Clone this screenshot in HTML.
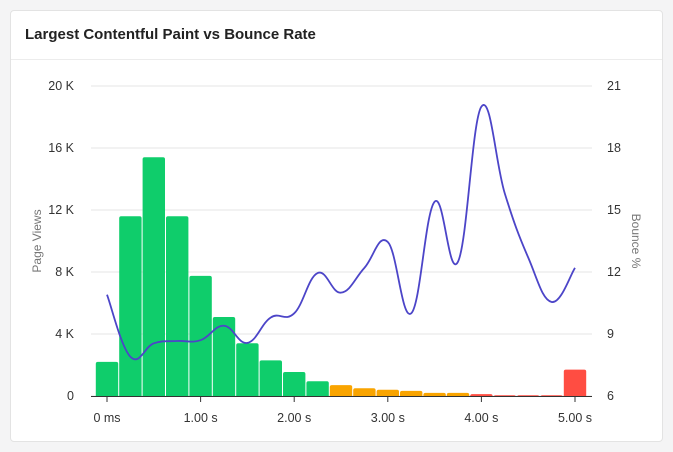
<!DOCTYPE html>
<html><head><meta charset="utf-8"><style>
body{margin:0;background:#f4f4f5;font-family:"Liberation Sans",sans-serif;}
.card{position:absolute;left:10px;top:10px;width:651px;height:430px;background:#fff;border:1px solid #e3e3e3;border-radius:4px;}
.hdr{height:48px;border-bottom:1px solid #ececec;font-size:15px;font-weight:bold;color:#222;line-height:48px;padding-left:14px;}
svg{position:absolute;left:0;top:0}
text{font-family:"Liberation Sans",sans-serif;font-size:12.5px;fill:#333}
</style></head><body>
<div class="card"><div class="hdr">Largest Contentful Paint vs Bounce Rate</div></div>
<svg id="c" width="673" height="452"></svg>
<script>
const categories=[0,0.25,0.5,0.75,1,1.25,1.5,1.75,2,2.25,2.5,2.75,3,3.25,3.5,3.75,4,4.25,4.5,4.75,5];
const pageViews=[2.2,11.6,15.4,11.6,7.75,5.1,3.4,2.3,1.55,0.95,0.7,0.5,0.4,0.33,0.2,0.2,0.12,0.05,0.05,0.05,1.7];
const bounce=[10.9,7.9,8.55,8.66,8.7,9.4,8.57,9.8,10.0,11.95,11.0,12.2,13.45,10.0,15.4,12.5,20.0,15.8,12.7,10.55,12.2];
const leftTicks=[0,4,8,12,16,20];
const leftLabels=["0","4 K","8 K","12 K","16 K","20 K"];
const rightTicks=[6,9,12,15,18,21];
const xTicks=[0,1,2,3,4,5];
const xLabels=["0 ms","1.00 s","2.00 s","3.00 s","4.00 s","5.00 s"];
const svg=document.getElementById('c');const NS='http://www.w3.org/2000/svg';
const X=v=>107+v*93.6, YL=v=>396-v*15.5, YR=v=>396-(v-6)*310/15;
function mk(t,a,txt){const e=document.createElementNS(NS,t);for(const k in a)e.setAttribute(k,a[k]);if(txt!==undefined)e.textContent=txt;svg.appendChild(e);return e;}
leftTicks.forEach((t,i)=>{
 const g=mk('line',{x1:91,x2:592,y1:YL(t),y2:YL(t),stroke:'#e6e6e6'});
 
 
 const l=mk('text',{x:74,y:YL(t)+4,'text-anchor':'end'},leftLabels[i]);
 
 
});
rightTicks.forEach(t=>{
 const l=mk('text',{x:607,y:YR(t)+4},String(t));
 
 
});
const colors=i=>i<10?'#0fcd6b':i<16?'#f9a400':'#ff4d42';
const bw=93.6*0.25;
pageViews.forEach((v,i)=>{
 const x=X(categories[i])-bw/2+0.5, y=YL(v);
 const r=mk('path',{d:`M${x},396V${y+2}q0,-2 2,-2h${bw-5}q2,0 2,2V396Z`,fill:colors(i)});
 
 
});
const ax=mk('line',{x1:91,x2:592,y1:396.5,y2:396.5,stroke:'#333'});


xTicks.forEach((t,i)=>{
 mk('line',{x1:X(t),x2:X(t),y1:396,y2:402,stroke:'#333'});
 const l=mk('text',{x:X(t),y:422,'text-anchor':'middle'},xLabels[i]);
 
 
});
const pts=bounce.map((b,i)=>[X(categories[i]),YR(b)]);
let d=`M${pts[0][0]},${pts[0][1]}`;
for(let i=0;i<pts.length-1;i++){
 const p0=pts[Math.max(0,i-1)],p1=pts[i],p2=pts[i+1],p3=pts[Math.min(pts.length-1,i+2)];
 const t=0.2;
 d+=`C${p1[0]+(p2[0]-p0[0])*t},${p1[1]+(p2[1]-p0[1])*t} ${p2[0]-(p3[0]-p1[0])*t},${p2[1]-(p3[1]-p1[1])*t} ${p2[0]},${p2[1]}`;
}
const ln=mk('path',{d,fill:'none',stroke:'#4c45c8','stroke-width':1.8});


const yl=mk('text',{transform:'translate(41,241) rotate(-90)','text-anchor':'middle',style:'fill:#777;font-size:12px'},'Page Views');


const yr=mk('text',{transform:'translate(632,241) rotate(90)','text-anchor':'middle',style:'fill:#777;font-size:12px'},'Bounce %');


</script>
</body></html>
